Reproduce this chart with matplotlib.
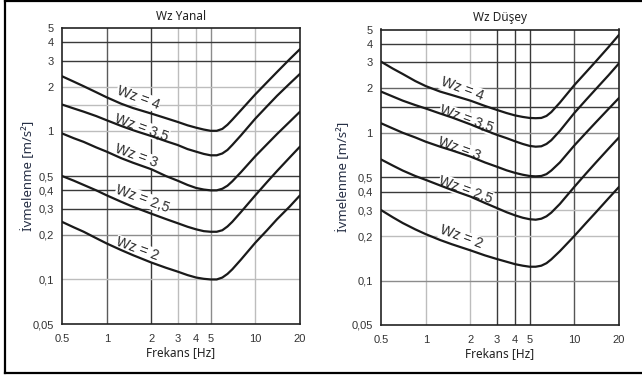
import matplotlib
matplotlib.use("Agg")
import matplotlib.pyplot as plt
from matplotlib.lines import Line2D

# frequency points (Hz) at which the curves were read
freq = [0.5, 0.6, 0.7, 0.85, 1, 1.25, 1.5, 2, 2.5, 3, 3.5, 4, 4.5, 5,
        5.5, 6, 6.5, 7, 8, 10, 12, 14, 17, 20]

# Wz Yanal (lateral) acceleration curves [m/s2]
yanal_4 = [2.36, 2.17, 2.02, 1.84, 1.70, 1.54, 1.44, 1.32, 1.23, 1.16, 1.10, 1.06, 1.03, 1.01,
           1.01, 1.04, 1.11, 1.20, 1.39, 1.78, 2.15, 2.52, 3.07, 3.6]
yanal_35 = [1.52, 1.43, 1.36, 1.27, 1.19, 1.09, 1.02, 0.93, 0.86, 0.81, 0.76, 0.73, 0.705, 0.69,
            0.69, 0.71, 0.75, 0.81, 0.94, 1.22, 1.48, 1.74, 2.1, 2.45]
yanal_3 = [0.97, 0.90, 0.85, 0.78, 0.73, 0.66, 0.615, 0.555, 0.50, 0.465, 0.435, 0.415, 0.405, 0.40,
           0.40, 0.41, 0.43, 0.46, 0.53, 0.68, 0.82, 0.96, 1.16, 1.36]
yanal_25 = [0.50, 0.465, 0.435, 0.40, 0.37, 0.335, 0.31, 0.278, 0.256, 0.24, 0.227, 0.218, 0.212, 0.21,
            0.21, 0.215, 0.228, 0.245, 0.285, 0.37, 0.455, 0.54, 0.665, 0.79]
yanal_2 = [0.245, 0.225, 0.21, 0.19, 0.175, 0.158, 0.146, 0.13, 0.12, 0.113, 0.107, 0.103, 0.101, 0.10,
           0.10, 0.103, 0.109, 0.117, 0.136, 0.177, 0.215, 0.255, 0.31, 0.37]

# Wz Dusey (vertical) acceleration curves [m/s2]
dusey_4 = [3.03, 2.72, 2.5, 2.24, 2.07, 1.9, 1.8, 1.65, 1.52, 1.43, 1.36, 1.31, 1.28, 1.26,
           1.255, 1.26, 1.3, 1.38, 1.6, 2.1, 2.57, 3.05, 3.8, 4.6]
dusey_35 = [1.9, 1.76, 1.65, 1.54, 1.46, 1.35, 1.27, 1.14, 1.04, 0.97, 0.92, 0.875, 0.84, 0.815,
            0.805, 0.81, 0.84, 0.89, 1.03, 1.36, 1.67, 1.98, 2.45, 2.95]
dusey_3 = [1.16, 1.07, 1.0, 0.93, 0.87, 0.805, 0.76, 0.69, 0.63, 0.59, 0.557, 0.535, 0.52, 0.51,
           0.507, 0.51, 0.525, 0.555, 0.63, 0.82, 1.0, 1.18, 1.45, 1.72]
dusey_25 = [0.66, 0.6, 0.555, 0.51, 0.48, 0.44, 0.41, 0.37, 0.335, 0.31, 0.29, 0.276, 0.266, 0.26,
            0.258, 0.262, 0.272, 0.288, 0.33, 0.43, 0.53, 0.63, 0.78, 0.93]
dusey_2 = [0.30, 0.268, 0.245, 0.222, 0.206, 0.188, 0.176, 0.16, 0.148, 0.14, 0.134, 0.129, 0.126, 0.124,
           0.124, 0.126, 0.131, 0.139, 0.158, 0.2, 0.245, 0.29, 0.36, 0.43]

curve_labels = ["Wz = 4", "Wz = 3,5", "Wz = 3", "Wz = 2,5", "Wz = 2"]
# label anchor points (freq, accel)
yanal_label_f = [1.62, 1.72, 1.57, 1.75, 1.60]
yanal_label_a = [1.68, 1.06, 0.68, 0.35, 0.16]
dusey_label_f = [1.75, 1.88, 1.68, 1.86, 1.73]
dusey_label_a = [1.98, 1.24, 0.78, 0.41, 0.196]

xticks = [0.5, 1, 2, 3, 4, 5, 10, 20]
xtick_labels = ["0.5", "1", "2", "3", "4", "5", "10", "20"]
yticks = [0.05, 0.1, 0.2, 0.3, 0.4, 0.5, 1, 2, 3, 4, 5]
ytick_labels = ["0,05", "0,1", "0,2", "0,3", "0,4", "0,5", "1", "2", "3", "4", "5"]

DARK, MID, LIGHT = "#3a3a3a", "#8c8c8c", "#bdbdbd"
yanal_vgrid = [(1, "#5a5a5a"), (2, DARK), (3, LIGHT), (4, LIGHT), (5, MID), (10, LIGHT)]
yanal_hgrid = [(4, DARK), (3, DARK), (2, LIGHT), (1.5, LIGHT), (1, LIGHT),
               (0.5, DARK), (0.4, DARK), (0.3, DARK), (0.2, MID), (0.1, LIGHT)]
dusey_vgrid = [(1, LIGHT), (2, LIGHT), (3, DARK), (4, DARK), (5, DARK), (10, "#555555")]
dusey_hgrid = [(4, DARK), (3, DARK), (2, "#666666"), (1.5, DARK), (1, MID),
               (0.5, DARK), (0.4, DARK), (0.3, LIGHT), (0.2, LIGHT), (0.1, MID)]

TICK_FONT = "Liberation Sans"
TEXT_FONT = "Noto Sans"


def draw_panel(ax, curves, label_f, label_a, vgrid, hgrid, title, ylabel_x):
    ax.set_xscale("log")
    ax.set_yscale("log")
    ax.set_xlim(0.5, 20)
    ax.set_ylim(0.05, 5)

    for v, c in vgrid:
        ax.axvline(v, color=c, lw=1.0, zorder=1)
    for v, c in hgrid:
        ax.axhline(v, color=c, lw=1.0, zorder=1)

    for vals in curves:
        ax.plot(freq, vals, color="#1a1a1a", lw=1.6, zorder=3,
                solid_capstyle="round", solid_joinstyle="round")

    for txt, f, a in zip(curve_labels, label_f, label_a):
        ax.text(f, a, txt, rotation=-20, ha="center", va="center", fontsize=10.2,
                family=TICK_FONT, color="#2a2a2a", zorder=2,
                bbox=dict(facecolor="white", edgecolor="none", pad=0.3))

    ax.set_xticks(xticks)
    ax.set_xticklabels(xtick_labels)
    ax.set_yticks(yticks)
    ax.set_yticklabels(ytick_labels)
    ax.minorticks_off()
    ax.tick_params(length=0, labelsize=8, labelcolor="#333333")
    ax.tick_params(axis="x", pad=7)
    ax.tick_params(axis="y", pad=6)
    for lab in ax.get_xticklabels() + ax.get_yticklabels():
        lab.set_family(TICK_FONT)

    for sp in ax.spines.values():
        sp.set_color("#222222")
        sp.set_linewidth(1.2)

    ax.set_title(title, fontsize=8.5, family=TEXT_FONT, color="#222222", pad=6)
    ax.set_xlabel("Frekans [Hz]", fontsize=8.5, family=TEXT_FONT, color="#222222", labelpad=2)
    ax.set_ylabel("İvmelenme [m/s²]", fontsize=9.5, family=TEXT_FONT, color="#262f45")
    ax.yaxis.set_label_coords(ylabel_x, 0.5)


fig = plt.figure(figsize=(6.42, 3.76), dpi=100)
fig.patch.set_facecolor("white")

ax1 = fig.add_axes([62 / 642, 52 / 376, 238 / 642, 296 / 376])
ax2 = fig.add_axes([381 / 642, 51 / 376, 238 / 642, 295.5 / 376])

draw_panel(ax1, [yanal_4, yanal_35, yanal_3, yanal_25, yanal_2],
           yanal_label_f, yanal_label_a, yanal_vgrid, yanal_hgrid, "Wz Yanal", -0.112)
draw_panel(ax2, [dusey_4, dusey_35, dusey_3, dusey_25, dusey_2],
           dusey_label_f, dusey_label_a, dusey_vgrid, dusey_hgrid, "Wz Düşey", -0.13)

# outer frame (left, top, bottom)
fx0 = 5 / 642
fy_top = 1 - 1 / 376
fy_bot = 1 - 373 / 376
fig.add_artist(Line2D([fx0, 1.0], [fy_top, fy_top], color="black", lw=1.6))
fig.add_artist(Line2D([fx0, 1.0], [fy_bot, fy_bot], color="black", lw=1.6))
fig.add_artist(Line2D([fx0, fx0], [fy_bot, fy_top], color="black", lw=1.6))

fig.savefig("out.png", dpi=100)
